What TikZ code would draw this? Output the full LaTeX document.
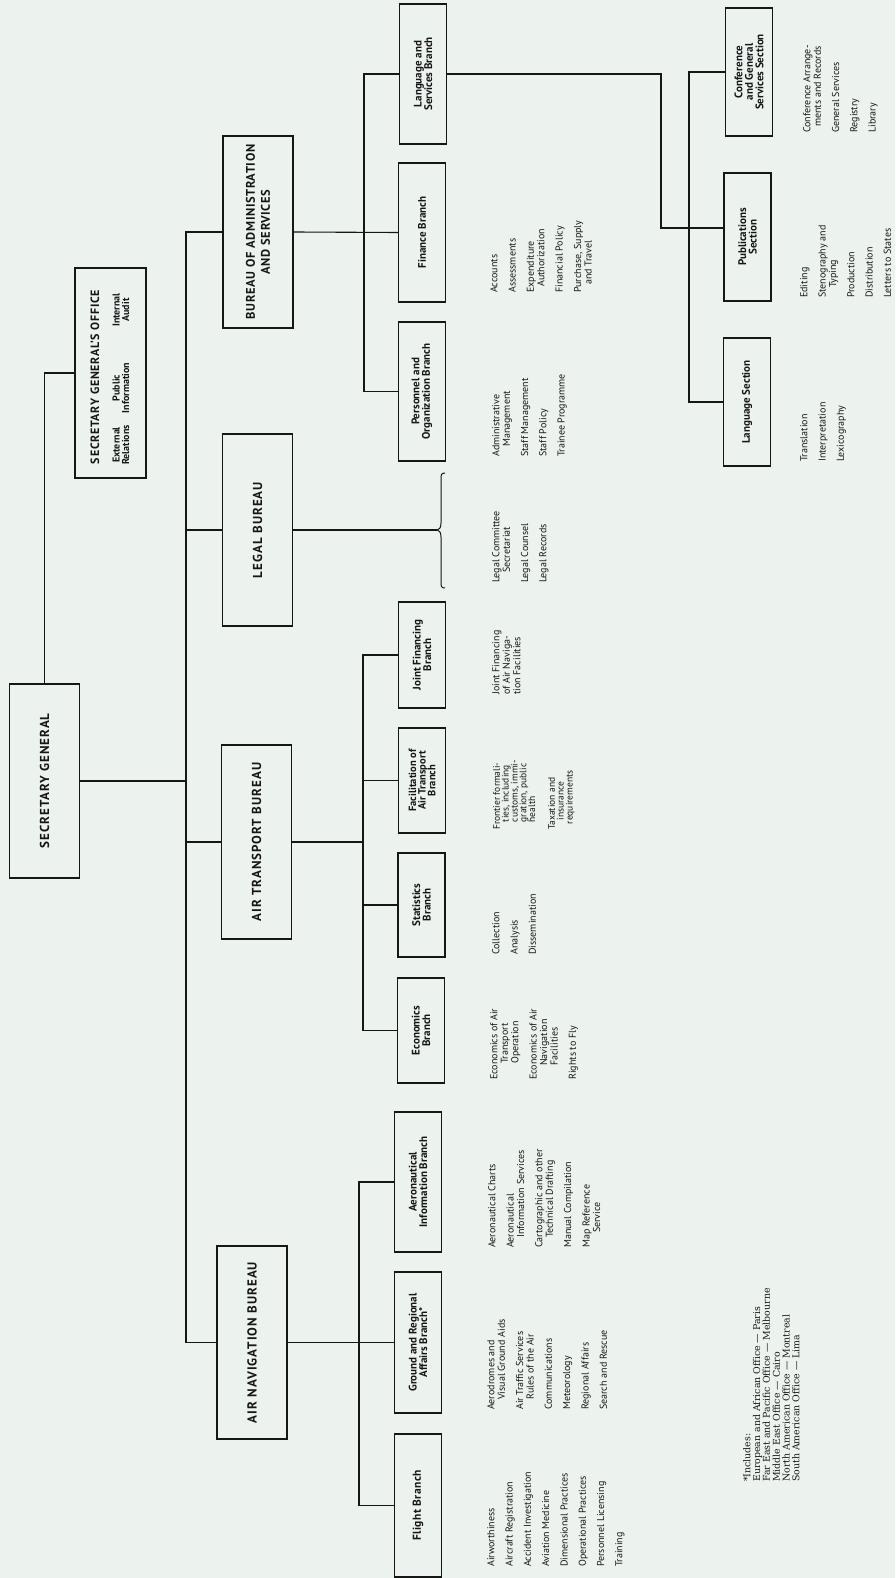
\documentclass[tikz,border=0pt]{standalone}
\usepackage{fontspec}
\setmainfont{PT Sans}
\newfontfamily\fnfont{DejaVu Serif}
\usetikzlibrary{calc}
\definecolor{paper}{RGB}{236,242,238}
\definecolor{ink}{RGB}{22,22,22}
\begin{document}
\begin{tikzpicture}[x=1pt,y=-1pt,
  link/.style={draw=ink, line width=1.1pt},
  box/.style={draw=ink, line width=1.2pt, rotate=90, inner sep=1pt, align=center, text=ink},
  bureau/.style={box, minimum height=70pt, font=\fontsize{13}{15}\selectfont\bfseries\addfontfeature{LetterSpace=8}},
  branch/.style={box, minimum height=47pt, font=\fontsize{11}{10.5}\selectfont\bfseries},
  items/.style={rotate=90, anchor=north west, align=left, inner sep=0pt, text=ink, font=\fontsize{10}{10.5}\selectfont},
  sgotext/.style={rotate=90, align=center, inner sep=0pt, text=ink}]
\useasboundingbox (0,0) rectangle (895,1578);
\fill[paper] (0,0) rectangle (895,1578);

% ---------- top level
\node[bureau, minimum width=194pt] (SG) at (44.5,781) {SECRETARY GENERAL};
\node[box, minimum width=210pt, minimum height=71pt] (SGO) at (110.5,373) {};
\node[sgotext, font=\fontsize{12}{13}\selectfont\bfseries\addfontfeature{LetterSpace=6}] (SGOt) at (95,377) {SECRETARY GENERAL'S OFFICE};
\node[sgotext, font=\fontsize{10}{9.5}\selectfont\bfseries] (er) at (121,445) {External\\Relations};
\node[sgotext, font=\fontsize{10}{9.5}\selectfont\bfseries] (pi) at (121,388) {Public\\Information};
\node[sgotext, font=\fontsize{10}{9.5}\selectfont\bfseries] (ia) at (121,310) {Internal\\Audit};

% ---------- bureaus
\node[bureau, minimum width=192pt, font=\fontsize{12.5}{15}\selectfont\bfseries\addfontfeature{LetterSpace=5}] (BAS) at (258,232) {BUREAU OF ADMINISTRATION\\AND SERVICES};
\node[bureau, minimum width=192pt] (LB) at (257.5,530) {LEGAL BUREAU};
\node[bureau, minimum width=194pt] (ATB) at (256.5,842) {AIR TRANSPORT BUREAU};
\node[bureau, minimum width=193pt] (ANB) at (252,1342.5) {AIR NAVIGATION BUREAU};

% ---------- branches
\node[branch, minimum width=140pt] (LS) at (423,74) {Language and\\Services Branch};
\node[branch, minimum width=139pt] (FB) at (422,232.5) {Finance Branch};
\node[branch, minimum width=139pt] (PO) at (422,391.5) {Personnel and\\Organization Branch};
\node[branch, minimum width=106pt] (JF) at (422,655) {Joint Financing\\Branch};
\node[branch, minimum width=105pt, font=\fontsize{10.5}{9.6}\selectfont\bfseries] (FA) at (422,780.5) {Facilitation of\\Air Transport\\Branch};
\node[branch, minimum width=104pt] (ST) at (421.5,905) {Statistics\\Branch};
\node[branch, minimum width=105pt] (EC) at (421,1030.5) {Economics\\Branch};
\node[branch, minimum width=140pt] (AI) at (418,1182) {Aeronautical\\Information Branch};
\node[branch, minimum width=141pt] (GR) at (418,1342.5) {Ground and Regional\\Affairs Branch*};
\node[branch, minimum width=143pt, font=\fontsize{11.5}{10.5}\selectfont\bfseries\addfontfeature{LetterSpace=4}] (FL) at (418,1505.5) {Flight Branch};

% ---------- sections
\node[branch, minimum width=128pt] (CG) at (749,72) {Conference\\and General\\Services Section};
\node[branch, minimum width=128pt] (PS) at (747.5,237) {Publications\\Section};
\node[branch, minimum width=128pt] (LSec) at (747,402) {Language Section};

% ---------- connectors
\coordinate (tk) at (186,0);
\coordinate (ax) at (364,0);
\coordinate (tx) at (363,0);
\coordinate (nx) at (359,0);
\coordinate (lx) at (661,0);
\coordinate (sx) at (689,0);
\coordinate (bt) at (437,530);

\draw[link] (SG.east) |- (SGO.north);
\draw[link] (SG.south) -- (SG.south -| tk);
\draw[link] (BAS.north) -- (BAS.north -| tk) -- (ANB.north -| tk) -- (ANB.north);
\draw[link] (LB.north) -- (LB.north -| tk);
\draw[link] (ATB.north) -- (ATB.north -| tk);

\draw[link] (BAS.south) -- (FB.north);
\draw[link] (LS.north) -- (LS.north -| ax) -- (PO.north -| ax) -- (PO.north);

\draw[link] (LB.south) -- (bt);
\draw[link, line width=1pt] ($(bt)+(8,-57)$) .. controls ($(bt)+(4,-57)$) and ($(bt)+(4,-55)$) .. ($(bt)+(4,-51)$)
  -- ($(bt)+(4,-7)$) .. controls ($(bt)+(4,-2)$) and ($(bt)+(2,0)$) .. (bt)
  .. controls ($(bt)+(2,0)$) and ($(bt)+(4,2)$) .. ($(bt)+(4,7)$)
  -- ($(bt)+(4,52)$) .. controls ($(bt)+(4,56)$) and ($(bt)+(4,58)$) .. ($(bt)+(8,58)$);

\draw[link] (JF.north) -- (JF.north -| tx) -- (EC.north -| tx) -- (EC.north);
\draw[link] (FA.north) -- (FA.north -| tx);
\draw[link] (ST.north) -- (ST.north -| tx);
\draw[link] (ATB.south) -- (ATB.south -| tx);

\draw[link] (AI.north) -- (AI.north -| nx) -- (FL.north -| nx) -- (FL.north);
\draw[link] (ANB.south) -- (GR.north);

\coordinate (psin) at ([yshift=9pt]PS.north);
\draw[link] (LS.south) -- (LS.south -| lx) -- (lx |- psin) -- (psin);
\draw[link] (CG.north) -- (CG.north -| sx) -- (LSec.north -| sx) -- (LSec.north);

% ---------- item lists
\node[items] (flI) at (487,1567) {Airworthiness\\[7.8pt]Aircraft Registration\\[7.8pt]Accident Investigation\\[7.8pt]Aviation Medicine\\[7.8pt]Dimensional Practices\\[7.8pt]Operational Practices\\[7.8pt]Personnel Licensing\\[7.8pt]Training};
\node[items] (grI) at (487,1410) {Aerodromes and\\\hspace*{1em}Visual Ground Aids\\[7.8pt]Air Traffic Services\\\hspace*{1em}Rules of the Air\\[7.8pt]Communications\\[7.8pt]Meteorology\\[7.8pt]Regional Affairs\\[7.8pt]Search and Rescue};
\node[items] (aiI) at (488,1248) {Aeronautical Charts\\[7.8pt]Aeronautical\\\hspace*{1em}Information Services\\[7.8pt]Cartographic and other\\\hspace*{1em}Technical Drafting\\[7.8pt]Manual Compilation\\[7.8pt]Map Reference\\\hspace*{1.5em}Service};
\node[items] (ecI) at (490,1080) {Economics of Air\\\hspace*{1.6em}Transport\\\hspace*{1.6em}Operation\\[7.8pt]Economics of Air\\\hspace*{1.4em}Navigation\\\hspace*{1.4em}Facilities\\[7.8pt]Rights to Fly};
\node[items] (stI) at (492,955) {Collection\\[7.8pt]Analysis\\[7.8pt]Dissemination};
\node[items, font=\fontsize{9.5}{8.8}\selectfont] (faI) at (493,830) {Frontier formali-\\\hspace*{0.8em}ties, including\\\hspace*{0.8em}customs, immi-\\\hspace*{0.8em}gration, public\\\hspace*{0.8em}health\\[11pt]Taxation and\\\hspace*{1em}insurance\\\hspace*{0.6em}requirements};
\node[items] (jfI) at (492,695) {Joint Financing\\of Air Naviga-\\tion Facilities};
\node[items] (lbI) at (492,583) {Legal Committee\\\hspace*{1em}Secretariat\\[7.8pt]Legal Counsel\\[7.8pt]Legal Records};
\node[items] (poI) at (492,457) {Administrative\\\hspace*{1em}Management\\[7.8pt]Staff Management\\[7.8pt]Staff Policy\\[7.8pt]Trainee Programme};
\node[items] (fbI) at (490,293) {Accounts\\[7.8pt]Assessments\\[7.8pt]Expenditure\\\hspace*{0.6em}Authorization\\[7.8pt]Financial Policy\\[7.8pt]Purchase, Supply\\\hspace*{0.8em}and Travel};
\node[items] (lsI) at (800,462) {Translation\\[7.8pt]Interpretation\\[7.8pt]Lexicography};
\node[items] (psI) at (800,298) {Editing\\[7.8pt]Stenography and\\\hspace*{1em}Typing\\[7.8pt]Production\\[7.8pt]Distribution\\[7.8pt]Letters to States};
\node[items] (cgI) at (803,133) {Conference Arrange-\\\hspace*{0.6em}ments and Records\\[7.8pt]General Services\\[7.8pt]Registry\\[7.8pt]Library};

% ---------- footnote
\node[items, font=\fnfont\fontsize{9.4}{9.8}\selectfont] (fn) at (743,1482) {*Includes:\\European and African Office — Paris\\Far East and Pacific Office — Melbourne\\Middle East Office — Cairo\\North American Office — Montreal\\South American Office — Lima};
\end{tikzpicture}
\end{document}
